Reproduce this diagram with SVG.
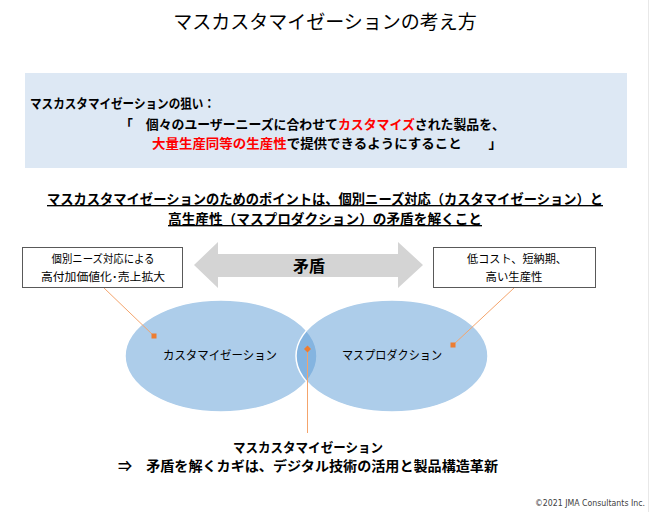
<svg xmlns="http://www.w3.org/2000/svg" width="650" height="512" viewBox="0 0 650 512">
<style>
text{font-family:"Noto Sans CJK JP","Noto Sans",sans-serif;fill:#000}
.b{font-weight:bold}
.red{fill:#ff0000}
.note{font-size:11.5px}
.lbl{font-size:12.5px}
.box{fill:#fff;stroke:#595959;stroke-width:1}
.ell{fill:#5b9bd5;fill-opacity:0.5;stroke:#fff;stroke-width:1.5}
.con{stroke:#f4a46c;stroke-width:1;fill:none}
.mk{fill:#ed7d31}
</style>
<rect width="650" height="512" fill="#fff"/>
<line x1="648.5" y1="0" x2="648.5" y2="512" stroke="#e8e8e8"/>
<text x="325" y="29" font-size="19" text-anchor="middle">マスカスタマイゼーションの考え方</text>

<g id="aim">
<rect x="25" y="73" width="602" height="95" fill="#dde8f4"/>
<text class="b" x="30" y="108" font-size="13" textLength="185" lengthAdjust="spacingAndGlyphs">マスカスタマイゼーションの狙い：</text>
<text class="b" x="120" y="129" font-size="13" textLength="385" lengthAdjust="spacingAndGlyphs">「　個々のユーザーニーズに合わせて<tspan class="red">カスタマイズ</tspan>された製品を、</text>
<text class="b" x="152" y="148" font-size="13" textLength="350" lengthAdjust="spacingAndGlyphs"><tspan class="red">大量生産同等の生産性</tspan>で提供できるようにすること　　」</text>
</g>

<g id="point">
<text class="b" x="325" y="204" font-size="13.5" text-anchor="middle" text-decoration="underline" textLength="556" lengthAdjust="spacingAndGlyphs">マスカスタマイゼーションのためのポイントは、個別ニーズ対応（カスタマイゼーション）と</text>
<text class="b" x="325" y="224" font-size="13.5" text-anchor="middle" text-decoration="underline" textLength="314" lengthAdjust="spacingAndGlyphs">高生産性（マスプロダクション）の矛盾を解くこと</text>
</g>

<g id="contradiction">
<polygon points="194,265 218,242 218,254 398,254 398,242 423,265 398,288 398,277 218,277 218,288" fill="#d4d4d4"/>
<text class="b" x="309" y="272" font-size="16" text-anchor="middle">矛盾</text>
</g>

<g id="customization">
<ellipse class="ell" cx="221" cy="356" rx="96" ry="56"/>
<text class="lbl" x="220" y="360" text-anchor="middle" textLength="114" lengthAdjust="spacingAndGlyphs">カスタマイゼーション</text>
</g>

<g id="massproduction">
<ellipse class="ell" cx="392" cy="356" rx="96" ry="56"/>
<text class="lbl" x="392" y="360" text-anchor="middle" textLength="100" lengthAdjust="spacingAndGlyphs">マスプロダクション</text>
</g>

<g id="note-left">
<rect class="box" x="22.5" y="247.5" width="160" height="40"/>
<text class="note" x="103" y="263" text-anchor="middle" textLength="103" lengthAdjust="spacingAndGlyphs">個別ニーズ対応による</text>
<text class="note" x="103" y="281" text-anchor="middle" textLength="124" lengthAdjust="spacingAndGlyphs">高付加価値化･売上拡大</text>
</g>

<g id="note-right">
<rect class="box" x="433.5" y="247.5" width="162" height="40"/>
<text class="note" x="517" y="263" text-anchor="middle" textLength="100" lengthAdjust="spacingAndGlyphs">低コスト、短納期、</text>
<text class="note" x="514" y="281" text-anchor="middle" textLength="57" lengthAdjust="spacingAndGlyphs">高い生産性</text>
</g>

<g id="connectors">
<line class="con" x1="104" y1="288" x2="154" y2="336"/>
<rect class="mk" x="151.5" y="333.5" width="5" height="5"/>
<line class="con" x1="514" y1="288" x2="453" y2="345"/>
<rect class="mk" x="450.5" y="342.5" width="5" height="5"/>
<line class="con" x1="307.5" y1="349" x2="307.5" y2="433"/>
<polygon class="mk" points="307.5,345.5 311,349 307.5,352.5 304,349"/>
</g>

<g id="key">
<text class="b" x="308" y="452" font-size="13" text-anchor="middle" textLength="150" lengthAdjust="spacingAndGlyphs">マスカスタマイゼーション</text>
<text class="b" x="118" y="471" font-size="13.5" textLength="380" lengthAdjust="spacingAndGlyphs">⇒　矛盾を解くカギは、デジタル技術の活用と製品構造革新</text>
</g>

<text x="645" y="506" font-size="8" text-anchor="end" fill="#404040" style="font-family:'DejaVu Sans',sans-serif;fill:#404040" textLength="110" lengthAdjust="spacingAndGlyphs">©2021 JMA Consultants Inc.</text>
</svg>
